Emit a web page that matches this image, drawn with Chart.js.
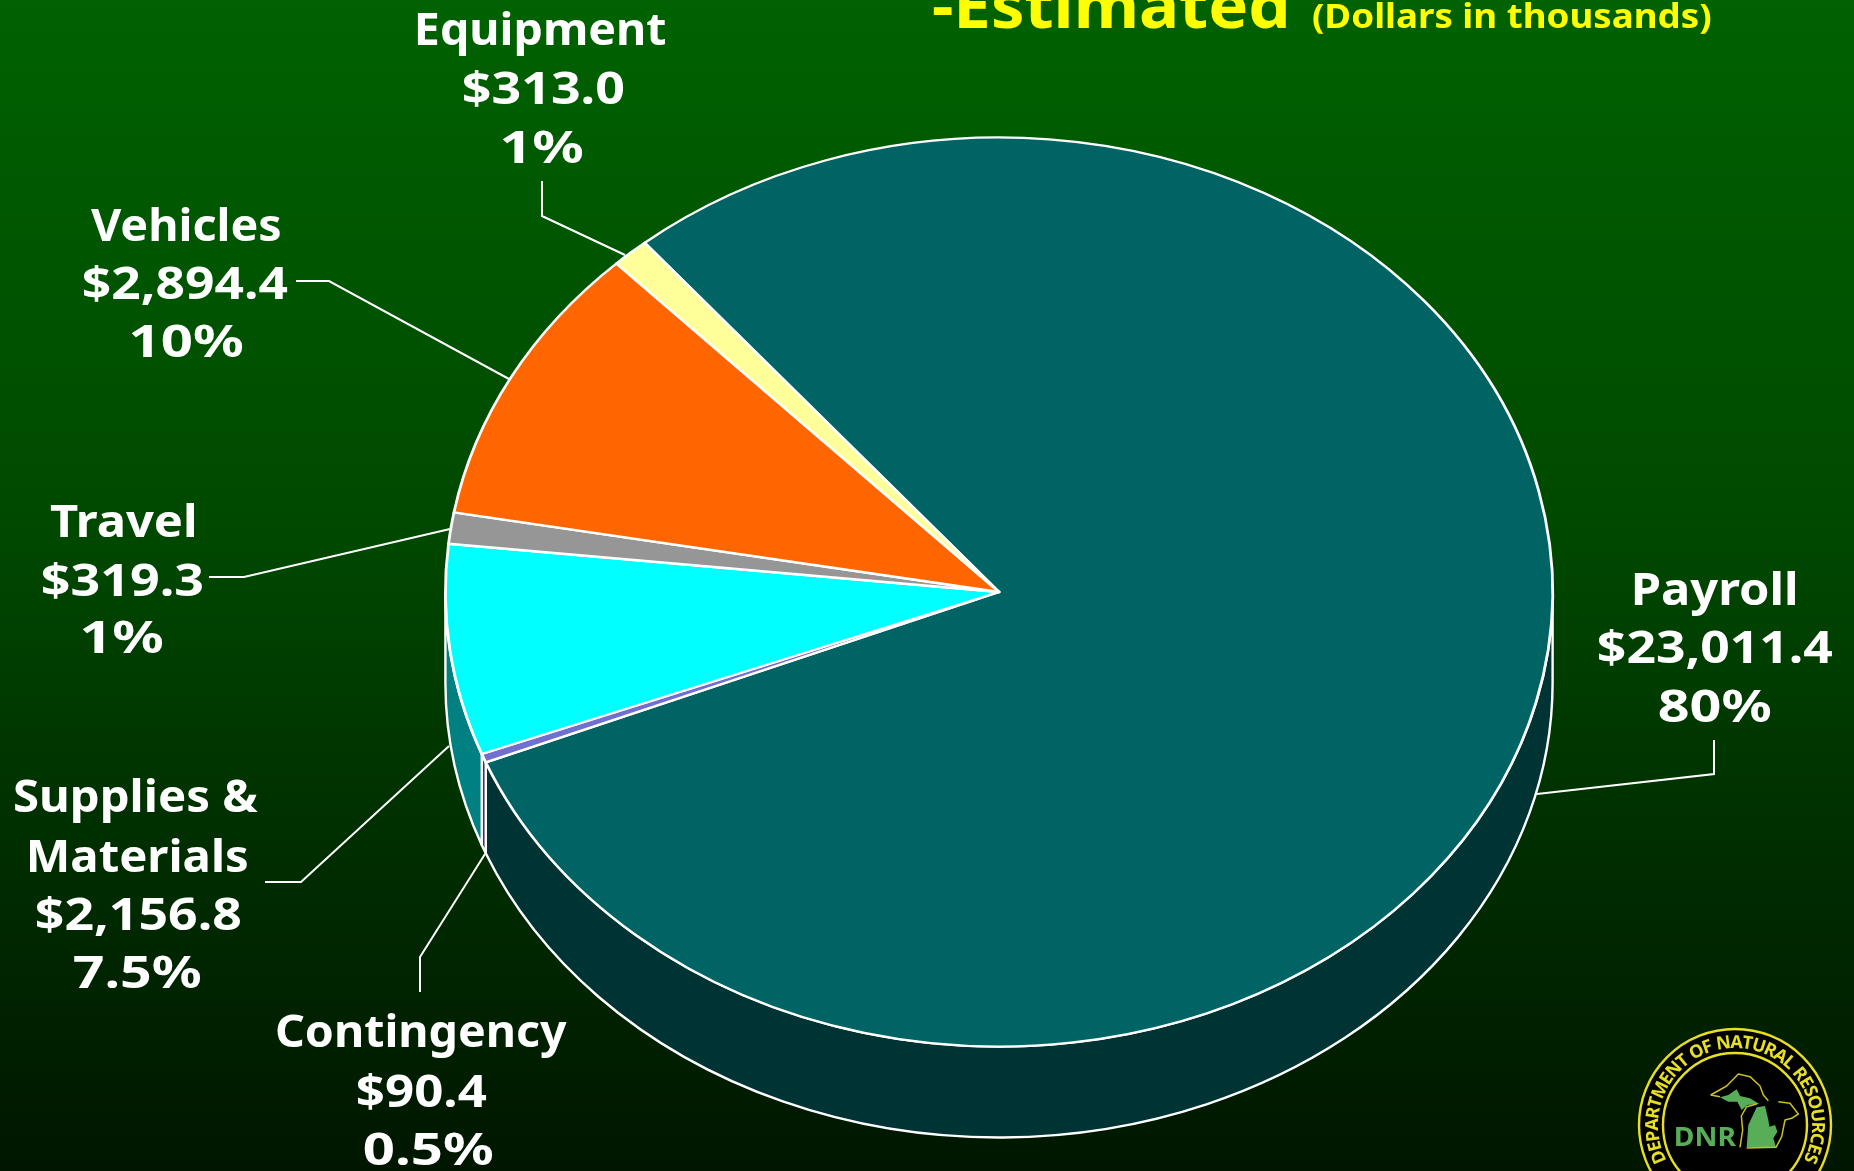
<!DOCTYPE html>
<html>
<head>
<meta charset="utf-8">
<style>html,body{margin:0;padding:0;background:#003000;overflow:hidden}canvas{display:block}</style>
<script src="https://cdn.jsdelivr.net/npm/chart.js@4/dist/chart.umd.min.js"></script>
</head>
<body>
<canvas id="c" width="1854" height="1171"></canvas>
<script>
// ---- data ----
const categories = ["Payroll", "Contingency", "Supplies & Materials", "Travel", "Vehicles", "Equipment"];
const values = [23011.4, 90.4, 2156.8, 319.3, 2894.4, 313.0];
const percentLabels = ["80%", "0.5%", "7.5%", "1%", "10%", "1%"];
const categoryLines = [["Payroll"], ["Contingency"], ["Supplies &", "Materials"], ["Travel"], ["Vehicles"], ["Equipment"]];
const titleText = "-Estimated";
const subtitleText = "(Dollars in thousands)";
const sealText = "DEPARTMENT OF NATURAL RESOURCES";
const sealInitials = "DNR";

// ---- styles ----
const topColors = ["#006464", "#7070D0", "#00FFFF", "#969696", "#FF6600", "#FFFF99"];
const sideColors = ["#003333", "#333366", "#008080", "#4B4B4B", "#803300", "#80804D"];
const FONT = '"Noto Sans"';

// ---- layout (ink extents of each text line: x0, x1, baseline) ----
const labelBoxes = [
  [[1634,1796,605],[1598,1832,663],[1659,1771,722]],
  [[277,567,1047],[357,486,1107],[364,493,1165]],
  [[15,258,812],[30,247,872],[36,241,930],[74,201,988]],
  [[50,195,537],[42,202,596],[82,163,653]],
  [[91,280,241],[83,287,299],[131,243,357]],
  [[418,666,45],[463,624,104],[502,583,163]]
];
const leaders = [
  [[1714,740],[1714,774],[1537,794]],
  [[420,992],[420,957],[485,854]],
  [[265,882],[301,882],[449,746]],
  [[209,577],[244,577],[450,529]],
  [[296,281],[329,281],[509,379]],
  [[542,181],[542,216],[625,255]]
];
const RY = 454.5, DEPTH = 91;

function fitText(ctx, text, x0, x1, base, font, color) {
  ctx.save();
  ctx.font = font; ctx.fillStyle = color; ctx.textAlign = "left"; ctx.textBaseline = "alphabetic";
  const m = ctx.measureText(text);
  const w = m.actualBoundingBoxRight + m.actualBoundingBoxLeft;
  const k = (x1 - x0) / w;
  ctx.translate(x0, base); ctx.scale(k, 1);
  ctx.fillText(text, m.actualBoundingBoxLeft, 0);
  ctx.restore();
}

function poly(ctx, pts, ox, oy, close) {
  ctx.beginPath();
  pts.forEach((p, i) => { const x = ox + p[0] / 3, y = oy + p[1] / 3; i ? ctx.lineTo(x, y) : ctx.moveTo(x, y); });
  if (close) ctx.closePath();
}

function drawSeal(ctx) {
  const cx = 1735, cy = 1125;
  ctx.save();
  ctx.beginPath(); ctx.arc(cx, cy, 96, 0, Math.PI * 2); ctx.fillStyle = "#000"; ctx.fill();
  ctx.strokeStyle = "#E6E020"; ctx.lineWidth = 2.4; ctx.stroke();
  ctx.beginPath(); ctx.arc(cx, cy, 72, 0, Math.PI * 2); ctx.stroke();
  // ring text
  ctx.font = "700 18px " + FONT; ctx.fillStyle = "#E6E020"; ctx.textAlign = "center"; ctx.textBaseline = "alphabetic";
  const widths = [...sealText].map(ch => ctx.measureText(ch).width + 0.6);
  const total = widths.reduce((a, b) => a + b, 0);
  const span = 234 * Math.PI / 180, step = span / total;
  let a = -span / 2;
  [...sealText].forEach((ch, i) => {
    const mid = a + widths[i] * step / 2;
    ctx.save(); ctx.translate(cx + Math.sin(mid) * 77, cy - Math.cos(mid) * 77); ctx.rotate(mid);
    ctx.fillText(ch, 0, 0); ctx.restore();
    a += widths[i] * step;
  });
  // Michigan outline
  const ox = 1600, oy = 1010, g = "#58AE58";
  ctx.fillStyle = g;
  poly(ctx, [[440,412],[445,345],[470,292],[495,288],[505,330],[508,350],[525,345],[532,365],[520,385],[528,412]], ox, oy, true); ctx.fill();
  poly(ctx, [[360,262],[385,255],[410,238],[420,258],[450,265],[478,282],[442,285],[425,300],[412,275],[385,275]], ox, oy, true); ctx.fill();
  ctx.strokeStyle = "#C8C020"; ctx.lineWidth = 1.5; ctx.lineJoin = "round";
  poly(ctx, [[332,255],[380,228],[415,192],[450,200],[480,228],[490,255],[505,272]], ox, oy); ctx.stroke();
  poly(ctx, [[332,255],[360,260]], ox, oy); ctx.stroke();
  poly(ctx, [[535,275],[570,280],[595,312],[575,325],[555,330],[545,380],[528,412],[440,414]], ox, oy); ctx.stroke();
  poly(ctx, [[420,412],[428,360],[424,318],[440,290],[470,282]], ox, oy); ctx.stroke();
  fitText(ctx, sealInitials, 1676, 1737, 1146, "700 26px " + FONT, g);
  ctx.restore();
}

const pie3d = {
  id: "pie3d",
  beforeDraw(chart) {
    const ctx = chart.ctx, g = ctx.createLinearGradient(0, 0, 0, chart.height);
    g.addColorStop(0, "#006200"); g.addColorStop(0.46, "#004800"); g.addColorStop(0.7, "#003000"); g.addColorStop(1, "#001600");
    ctx.save(); ctx.fillStyle = g; ctx.fillRect(0, 0, chart.width, chart.height); ctx.restore();
  },
  beforeDatasetsDraw(chart) {
    const ctx = chart.ctx, arcs = chart.getDatasetMeta(0).data;
    const TAU = Math.PI * 2;
    // side wall of each slice, using the arc geometry computed by the controller
    arcs.forEach((arc, i) => {
      const p = arc.getProps(["x", "y", "startAngle", "endAngle", "outerRadius"], true);
      const rx = p.outerRadius;
      [0, TAU, -TAU].forEach(shift => {
        const s = Math.max(p.startAngle + shift, 0), e = Math.min(p.endAngle + shift, Math.PI);
        if (e <= s) return;
        ctx.beginPath();
        ctx.ellipse(p.x, p.y, rx, RY, 0, s, e);
        ctx.ellipse(p.x, p.y + DEPTH, rx, RY, 0, e, s, true);
        ctx.closePath();
        ctx.fillStyle = sideColors[i]; ctx.fill();
        ctx.strokeStyle = "#fff"; ctx.lineWidth = 2.4; ctx.lineJoin = "round"; ctx.stroke();
      });
    });
    const a0 = arcs[0];
    ctx.save();
    ctx.translate(a0.x, a0.y); ctx.scale(1, RY / a0.outerRadius); ctx.translate(-a0.x, -a0.y);
  },
  afterDatasetsDraw(chart) {
    const ctx = chart.ctx;
    ctx.restore();
    ctx.strokeStyle = "#fff"; ctx.lineWidth = 2; ctx.lineJoin = "miter";
    leaders.forEach(l => {
      ctx.beginPath();
      l.forEach((p, i) => i ? ctx.lineTo(p[0], p[1]) : ctx.moveTo(p[0], p[1]));
      ctx.stroke();
    });
    categories.forEach((c, i) => {
      const lines = categoryLines[i].concat(["$" + values[i].toLocaleString("en-US", {minimumFractionDigits: 1, maximumFractionDigits: 1}), percentLabels[i]]);
      lines.forEach((t, j) => {
        const b = labelBoxes[i][j];
        fitText(ctx, t, b[0], b[1], b[2], "700 45px " + FONT, "#fff");
      });
    });
    fitText(ctx, titleText, 933, 1286, 28, "700 62px " + FONT, "#FFFF00");
    fitText(ctx, subtitleText, 1313, 1711, 28, "700 34px " + FONT, "#FFFF00");
    drawSeal(ctx);
  }
};

new Chart(document.getElementById("c"), {
  type: "pie",
  data: {
    labels: categories,
    datasets: [{
      data: values,
      backgroundColor: topColors,
      borderColor: "#ffffff",
      borderWidth: 2.8,
      borderJoinStyle: "round",
      clip: false
    }]
  },
  options: {
    responsive: false,
    animation: false,
    rotation: 320.2,
    layout: { padding: { left: 444, right: 300, top: 37, bottom: 24 } },
    plugins: { legend: { display: false }, tooltip: { enabled: false }, title: { display: false } },
    events: []
  },
  plugins: [pie3d]
});
</script>
</body>
</html>
